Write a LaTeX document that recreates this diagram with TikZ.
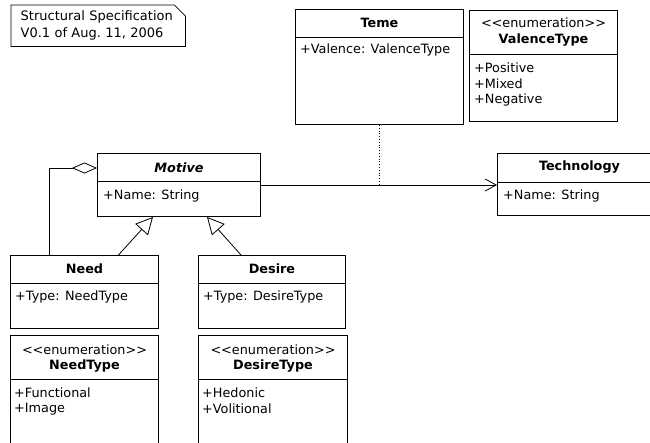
\documentclass[tikz,border=0pt]{standalone}
\usepackage{fontspec}
\setmainfont{DejaVu Sans}
\usetikzlibrary{arrows.meta}

\newcommand\umlfont{\fontsize{12.8}{15}\selectfont}

\tikzset{
  classbox/.style={draw, line width=1pt, anchor=north west, inner sep=0pt},
  classname/.style={font=\umlfont\bfseries},
  member/.style={anchor=west, inner sep=0pt},
  notebox/.style={anchor=north west, align=left, inner sep=0pt, text width=165pt,
    minimum width=174pt, minimum height=41pt, font=\fontsize{13}{17}\selectfont},
  gen/.style={-{Triangle[open, length=17pt, width=17pt]}, line width=0.8pt},
  agg/.style={{Diamond[open, length=25pt, width=11pt]}-, line width=0.8pt},
  assoc/.style={-{Straight Barb[length=11pt, width=12pt]}, line width=0.8pt},
}

\begin{document}
\begin{tikzpicture}[x=1pt, y=-1pt, font=\umlfont]
\useasboundingbox (0,0) rectangle (650,442);
\clip (0,0) rectangle (650,442);

\node[notebox] (spec) at (11,5) {\hspace*{5pt}Structural Specification\\\hspace*{5pt}V0.1 of Aug.~11, 2006};
\draw[line width=0.8pt] (spec.south west) -- (spec.north west) -- ([xshift=-11pt]spec.north east)
  -- ([yshift=-11pt]spec.north east) -- (spec.south east) -- cycle;

% Teme
\node[classbox, minimum width=168pt, minimum height=115pt] (teme) at (295,9) {};
\draw[line width=1pt] ([yshift=-28pt]teme.north west) -- ([yshift=-28pt]teme.north east);
\node[classname] (temename) at ([yshift=-14pt]teme.north) {Teme};
\node[member] (temevalence) at ([xshift=5pt, yshift=-41pt]teme.north west) {+Valence: ValenceType};

% ValenceType
\node[classbox, minimum width=148pt, minimum height=111pt] (valencetype) at (469,10) {};
\draw[line width=1pt] ([yshift=-44pt]valencetype.north west) -- ([yshift=-44pt]valencetype.north east);
\node (valencestereo) at ([yshift=-13pt]valencetype.north) {<{}<enumeration>{}>};
\node[classname] (valencename) at ([yshift=-30pt]valencetype.north) {ValenceType};
\foreach \lit [count=\i] in {Positive, Mixed, Negative}
  \node[member] (valence\i) at ([xshift=5pt, yshift=-42-16*\i]valencetype.north west) {+\lit};

% Motive
\node[classbox, minimum width=163pt, minimum height=63pt] (motive) at (97,153) {};
\draw[line width=1pt] ([yshift=-28pt]motive.north west) -- ([yshift=-28pt]motive.north east);
\node[classname, font=\umlfont\bfseries\itshape] (motivename) at ([yshift=-15pt]motive.north) {Motive};
\node[member] (motivename2) at ([xshift=6pt, yshift=-43pt]motive.north west) {+Name: String};

% Technology
\node[classbox, minimum width=164pt, minimum height=62pt] (tech) at (497,153) {};
\draw[line width=1pt] ([yshift=-29pt]tech.north west) -- ([yshift=-29pt]tech.north east);
\node[classname] (techname) at ([yshift=-14pt]tech.north) {Technology};
\node[member] (techname2) at ([xshift=6pt, yshift=-43pt]tech.north west) {+Name: String};

% Need, Desire
\node[classbox, minimum width=148pt, minimum height=73pt] (need) at (10,255) {};
\draw[line width=1pt] ([yshift=-28pt]need.north west) -- ([yshift=-28pt]need.north east);
\node[classname] (needname) at ([yshift=-14pt]need.north) {Need};
\node[member] (needtype) at ([xshift=5pt, yshift=-42pt]need.north west) {+Type: NeedType};

\node[classbox, minimum width=147pt, minimum height=73pt] (desire) at (198,255) {};
\draw[line width=1pt] ([yshift=-28pt]desire.north west) -- ([yshift=-28pt]desire.north east);
\node[classname] (desirename) at ([yshift=-14pt]desire.north) {Desire};
\node[member] (desiretype) at ([xshift=5pt, yshift=-42pt]desire.north west) {+Type: DesireType};

% NeedType, DesireType
\node[classbox, minimum width=148pt, minimum height=130pt] (needenum) at (10,335) {};
\draw[line width=1pt] ([yshift=-44pt]needenum.north west) -- ([yshift=-44pt]needenum.north east);
\node (needstereo) at ([yshift=-15pt]needenum.north) {<{}<enumeration>{}>};
\node[classname] (needenumname) at ([yshift=-31pt]needenum.north) {NeedType};
\foreach \lit [count=\i] in {Functional, Image}
  \node[member] (needlit\i) at ([xshift=4pt, yshift=-42-16*\i]needenum.north west) {+\lit};

\node[classbox, minimum width=149pt, minimum height=130pt] (desireenum) at (198,335) {};
\draw[line width=1pt] ([yshift=-44pt]desireenum.north west) -- ([yshift=-44pt]desireenum.north east);
\node (desirestereo) at ([yshift=-15pt]desireenum.north) {<{}<enumeration>{}>};
\node[classname] (desireenumname) at ([yshift=-31pt]desireenum.north) {DesireType};
\foreach \lit [count=\i] in {Hedonic, Volitional}
  \node[member] (desirelit\i) at ([xshift=4pt, yshift=-42-16*\i]desireenum.north west) {+\lit};

% connectors
\draw[gen] ([xshift=34pt]need.north) -- ([xshift=-26pt]motive.south);
\draw[gen] ([xshift=-31pt]desire.north) -- ([xshift=28pt]motive.south);
\draw[agg] ([yshift=17pt]motive.west) -| ([xshift=-35pt]need.north);
\draw[assoc] (motive.east) -- (motive.east -| tech.west);
\draw[dotted, line width=0.8pt] (teme.south) -- (teme.south |- motive.east);
\end{tikzpicture}
\end{document}
